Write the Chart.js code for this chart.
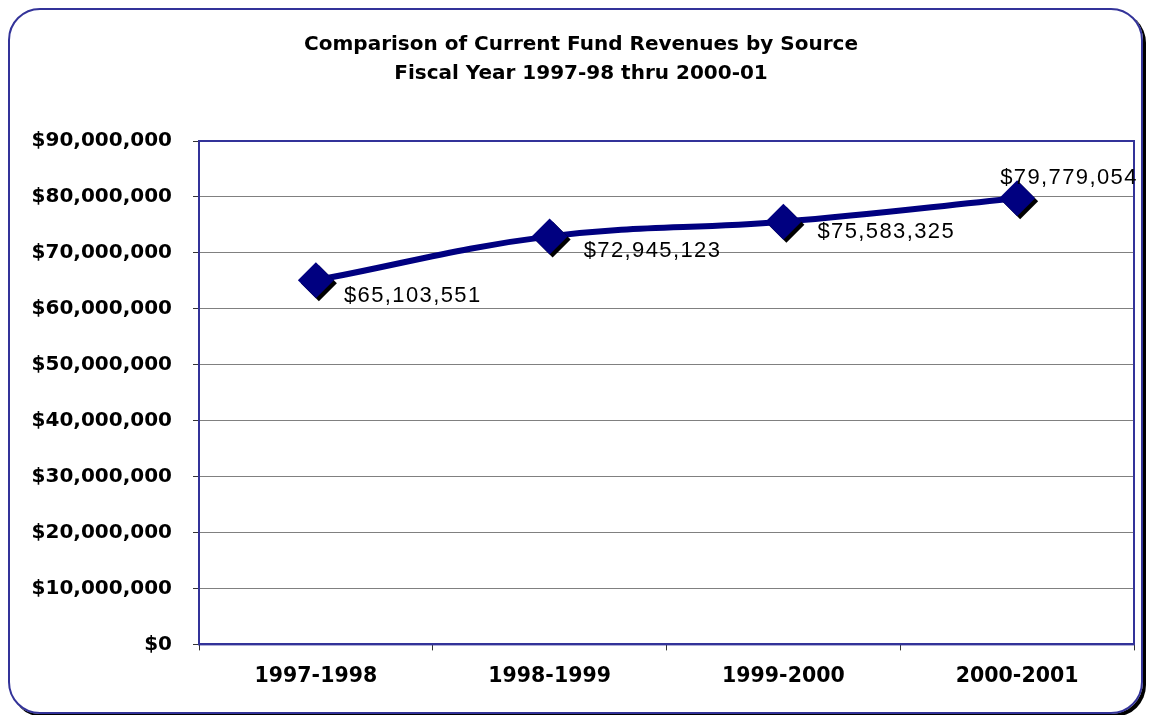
<!DOCTYPE html>
<html>
<head>
<meta charset="utf-8">
<script src="https://cdn.jsdelivr.net/npm/chart.js@4.4.1/dist/chart.umd.min.js"></script>
<style>
  html, body { margin: 0; padding: 0; background: #fff; }
  #frame {
    position: absolute; left: 8px; top: 8px;
    width: 1131px; height: 702px;
    border: 2px solid #333399; border-radius: 32px;
    box-shadow: 3px 3px 0 #000;
  }
  #myChart { position: absolute; left: 0; top: 0; }
</style>
</head>
<body>
<div id="frame"></div>
<canvas id="myChart" width="1155" height="715"></canvas>
<script>
const years = ['1997-1998', '1998-1999', '1999-2000', '2000-2001'];
const revenues = [65103551, 72945123, 75583325, 79779054];
const titleLines = ['Comparison of Current Fund Revenues by Source', 'Fiscal Year 1997-98 thru 2000-01'];

const money = v => '$' + Number(v).toLocaleString('en-US');

// black drop shadow under the diamonds only
const markerShadow = {
  id: 'markerShadow',
  beforeDatasetDraw(chart, args) {
    if (args.index !== 0) return;
    const ctx = chart.ctx;
    ctx.save();
    ctx.shadowColor = '#000';
    ctx.shadowOffsetX = 3;
    ctx.shadowOffsetY = 3;
    ctx.shadowBlur = 0;
  },
  afterDatasetDraw(chart, args) {
    if (args.index !== 0) return;
    chart.ctx.restore();
  }
};

// box round the plot area
const plotBox = {
  id: 'plotBox',
  beforeDatasetsDraw(chart) {
    const { ctx, chartArea: a } = chart;
    ctx.save();
    ctx.strokeStyle = '#333399';
    ctx.lineWidth = 2;
    ctx.strokeRect(a.left, a.top, a.right - a.left, a.bottom - a.top);
    ctx.restore();
  }
};

const valueLabels = {
  id: 'valueLabels',
  afterDatasetsDraw(chart, args, opts) {
    const meta = chart.getDatasetMeta(0);
    const ctx = chart.ctx;
    ctx.save();
    ctx.font = opts.font;
    if ('letterSpacing' in ctx) ctx.letterSpacing = opts.spacing;
    ctx.fillStyle = '#000';
    ctx.textAlign = 'left';
    ctx.textBaseline = 'middle';
    meta.data.forEach((pt, i) => {
      const off = opts.offsets[i];
      ctx.fillText(money(revenues[i]), pt.x + off[0], pt.y + off[1]);
    });
    ctx.restore();
  }
};

const ctx1 = document.getElementById('myChart').getContext('2d');
const chart1 = new Chart(ctx1, {
  type: 'line',
  data: {
    labels: years,
    datasets: [{
      label: 'points',
      data: revenues,
      showLine: false,
      pointStyle: 'rectRot',
      pointRadius: 18,
      pointHoverRadius: 18,
      pointBackgroundColor: '#000080',
      pointBorderWidth: 0,
      borderColor: '#000080'
    }, {
      label: 'line',
      data: revenues,
      borderColor: '#000080',
      borderWidth: 6,
      tension: 0.4,
      pointRadius: 0,
      fill: false
    }]
  },
  options: {
    responsive: false,
    animation: false,
    layout: { padding: { left: 28, right: 21, top: 0, bottom: 12 } },
    plugins: {
      legend: { display: false },
      tooltip: { enabled: false },
      title: {
        display: true,
        text: titleLines,
        color: '#000',
        font: { family: 'DejaVu Sans', size: 20, weight: 'bold', lineHeight: 1.45 },
        padding: { top: 30, bottom: 53 }
      },
      valueLabels: {
        font: '22px "Liberation Sans"',
        spacing: '1.4px',
        offsets: [[28, 16], [34, 15], [34, 10], [-17, -20]]
      }
    },
    scales: {
      x: {
        offset: true,
        grid: { offset: true, drawOnChartArea: false, drawTicks: true, tickLength: 6, tickColor: '#333' },
        border: { display: true, color: '#333399', width: 2 },
        ticks: { color: '#000', padding: 14, font: { family: 'DejaVu Sans', size: 20.5, weight: 'bold' } }
      },
      y: {
        min: 0,
        max: 90000000,
        afterFit(scale) { scale.width = 171; },
        grid: { color: '#808080', lineWidth: 1, tickLength: 6, tickColor: '#333' },
        border: { display: true, color: '#333399', width: 2 },
        ticks: {
          stepSize: 10000000,
          color: '#000',
          padding: 21,
          font: { family: 'DejaVu Sans', size: 20, weight: 'bold' },
          callback: v => money(v)
        }
      }
    }
  },
  plugins: [markerShadow, plotBox, valueLabels]
});
</script>
</body>
</html>
